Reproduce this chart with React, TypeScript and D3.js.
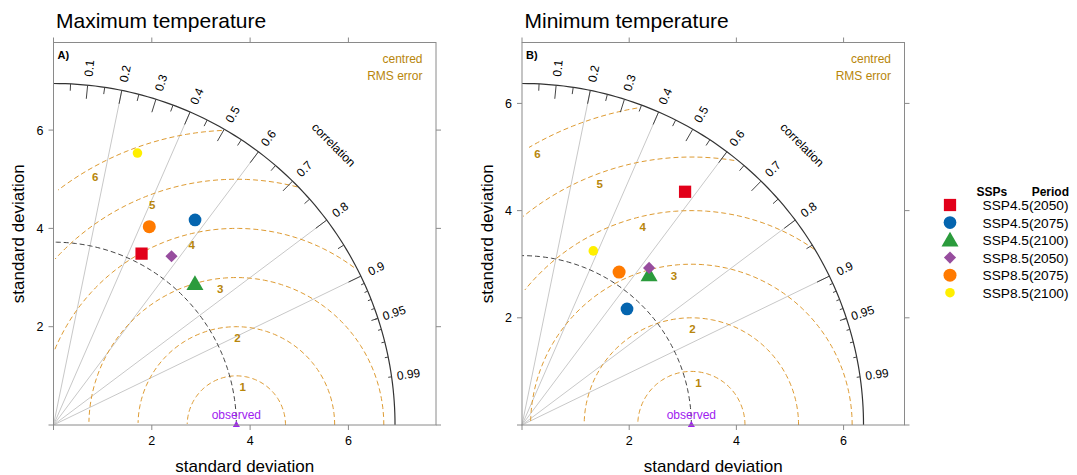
import * as d3 from "d3";

// model scenarios shown in both panels
const scenarios = [
  "SSP4.5(2050)",
  "SSP4.5(2075)",
  "SSP4.5(2100)",
  "SSP8.5(2050)",
  "SSP8.5(2075)",
  "SSP8.5(2100)",
];

// standard deviation and correlation
const maxTempObsSd = 3.72;
const maxTempSd = [3.92, 5.07, 4.07, 4.19, 4.48, 5.79];
const maxTempCorr = [0.457, 0.568, 0.707, 0.573, 0.435, 0.295];

const minTempObsSd = 3.16;
const minTempSd = [5.31, 2.92, 3.67, 3.77, 3.38, 3.51];
const minTempCorr = [0.573, 0.671, 0.646, 0.629, 0.536, 0.379];

const axisTicks = [0, 2, 4, 6];
const bigCorr = [0.1, 0.2, 0.3, 0.4, 0.5, 0.6, 0.7, 0.8, 0.9];
const medCorr = [0.05, 0.15, 0.25, 0.35, 0.45, 0.55, 0.65, 0.75, 0.85, 0.95];
const smlCorr = [0.91, 0.92, 0.93, 0.94, 0.95, 0.96, 0.97, 0.98, 0.99];
const corrLabels = [0.1, 0.2, 0.3, 0.4, 0.5, 0.6, 0.7, 0.8, 0.9, 0.95, 0.99];
const corrRays = [0.2, 0.4, 0.6, 0.8, 0.9];

const markers = [
  { shape: d3.symbolSquare, size: 150, color: "#E2001A", rotate: 0 },
  { shape: d3.symbolCircle, size: 127, color: "#0565AF", rotate: 0 },
  { shape: d3.symbolTriangle, size: 125, color: "#2B9B3C", rotate: 0 },
  { shape: d3.symbolSquare, size: 74, color: "#974D9E", rotate: 45 },
  { shape: d3.symbolCircle, size: 133, color: "#FF7A00", rotate: 0 },
  { shape: d3.symbolCircle, size: 72, color: "#FFEF00", rotate: 0 },
];

const FONT = "Liberation Sans, Arial, Helvetica, sans-serif";
const RMS = "#B8860B";
const FRAME = "#8a8a8a";
const PANEL = 382.5;

interface PanelProps {
  left: number;
  top: number;
  title: string;
  tag: string;
  obs: number;
  sd: number[];
  corr: number[];
}

const TaylorPanel = ({ left, top, title, tag, obs, sd, corr }: PanelProps) => {
  const maxsd = 1.2 * (d3.max([...sd, obs]) as number);
  const lim = maxsd * 1.12;
  const x = d3.scaleLinear().domain([0, lim]).range([0, PANEL]);
  const y = d3.scaleLinear().domain([0, lim]).range([PANEL, 0]);
  const line = d3
    .line<[number, number]>()
    .x((d) => x(d[0]))
    .y((d) => y(d[1]));

  const quarter = (r: number) =>
    line(d3.range(0, 91).map((a) => {
      const t = (a * Math.PI) / 180;
      return [Math.cos(t) * r, Math.sin(t) * r] as [number, number];
    }));

  const tick = (c: number, f: number, i: number) => {
    const t = Math.acos(c);
    return (
      <line
        key={`t${f}-${i}`}
        x1={x(Math.cos(t) * maxsd)}
        y1={y(Math.sin(t) * maxsd)}
        x2={x(Math.cos(t) * maxsd * f)}
        y2={y(Math.sin(t) * maxsd * f)}
        stroke="#444"
        strokeWidth={1}
      />
    );
  };

  // centred RMS arcs, sampled as in openair
  const gamma = d3.ticks(0, maxsd, 5).filter((g) => g <= maxsd);
  const labelPos = gamma.map((_, i) =>
    gamma.length > 1 ? 45 + (25 * i) / (gamma.length - 1) : 45,
  );
  const steps = d3.range(105).map((i) => i * 0.03);
  const rmsArcs = gamma.map((g, gi) => {
    const xs = steps.map((a) => Math.cos(a) * g + obs);
    const ys = steps.map((a) => Math.sin(a) * g);
    const neg = xs.findIndex((v) => v < 0);
    const end = neg === -1 ? 104 : neg - 1;
    let start = -1;
    xs.forEach((v, i) => {
      if (v * v + ys[i] * ys[i] > maxsd * maxsd) start = i;
    });
    start = start === -1 ? 0 : start + 1;
    const pts: [number, number][] = [];
    for (let i = start; i <= end; i++) pts.push([xs[i], ys[i]]);
    const li = Math.floor(labelPos[gi]) - 1;
    return { g, d: pts.length > 1 ? line(pts) : null, lx: xs[li], ly: ys[li] };
  });

  return (
    <g transform={`translate(${left},${top})`}>
      <text x={2.5} y={-14.5} fontSize={21} fontFamily={FONT} fill="#000">
        {title}
      </text>
      <defs>
        <clipPath id={`clip-${tag}`}>
          <rect x={0} y={0} width={PANEL} height={PANEL} />
        </clipPath>
      </defs>
      <g clipPath={`url(#clip-${tag})`}>
        {corrRays.map((c) => (
          <line
            key={`r${c}`}
            x1={x(0)}
            y1={y(0)}
            x2={x(c * maxsd)}
            y2={y(Math.sqrt(1 - c * c) * maxsd)}
            stroke="#c8c8c8"
            strokeWidth={1}
          />
        ))}
        {rmsArcs.map((a) =>
          a.d ? (
            <path
              key={`g${a.g}`}
              d={a.d}
              fill="none"
              stroke="#DE9B32"
              strokeWidth={1}
              strokeDasharray="5,3"
            />
          ) : null,
        )}
        {rmsArcs
          .filter((a) => a.g > 0 && a.lx > 0)
          .map((a) => (
            <text
              key={`gl${a.g}`}
              x={x(a.lx)}
              y={y(a.ly) + 15}
              textAnchor="middle"
              fontSize={11.5}
              fontWeight="bold"
              fontFamily={FONT}
              fill={RMS}
            >
              {a.g}
            </text>
          ))}
        <path
          d={quarter(obs) ?? ""}
          fill="none"
          stroke="#444"
          strokeWidth={1}
          strokeDasharray="5,3"
        />
        <path d={quarter(maxsd) ?? ""} fill="none" stroke="#333" strokeWidth={1.2} />
        {bigCorr.map((c, i) => tick(c, 0.96, i))}
        {medCorr.map((c, i) => tick(c, 0.98, i))}
        {smlCorr.map((c, i) => tick(c, 0.99, i))}
        <path
          d={d3.symbol(d3.symbolTriangle, 22)() ?? ""}
          transform={`translate(${x(obs)},${y(0)})`}
          fill="#A020F0"
        />
        <text
          x={x(obs)}
          y={y(0) - 6}
          textAnchor="middle"
          fontSize={12}
          fontFamily={FONT}
          fill="#A020F0"
        >
          observed
        </text>
        {sd.map((s, i) => {
          const m = markers[i];
          const px = x(s * corr[i]);
          const py = y(s * Math.sqrt(1 - corr[i] * corr[i]));
          return (
            <path
              key={`p${i}`}
              d={d3.symbol(m.shape, m.size)() ?? ""}
              transform={`translate(${px},${py + (m.shape === d3.symbolTriangle ? 1.5 : 0)}) rotate(${m.rotate})`}
              fill={m.color}
            />
          );
        })}
      </g>
      {corrLabels.map((c) => {
        const t = Math.acos(c);
        const deg = (t * 180) / Math.PI;
        return (
          <text
            key={`cl${c}`}
            transform={`translate(${x(Math.cos(t) * maxsd * 1.05)},${y(Math.sin(t) * maxsd * 1.05)}) rotate(${-deg})`}
            textAnchor="middle"
            dominantBaseline="central"
            fontSize={12}
            fontFamily={FONT}
            fill="#000"
          >
            {c}
          </text>
        );
      })}
      <text
        transform={`translate(${x(maxsd * 0.82)},${y(maxsd * 0.82)}) rotate(45)`}
        textAnchor="middle"
        dominantBaseline="central"
        fontSize={12}
        fontFamily={FONT}
        fill="#000"
      >
        correlation
      </text>
      <text x={PANEL - 13.5} y={20} textAnchor="end" fontSize={12} fontFamily={FONT} fill={RMS}>
        centred
      </text>
      <text x={PANEL - 13.5} y={37.7} textAnchor="end" fontSize={12} fontFamily={FONT} fill={RMS}>
        RMS error
      </text>
      <text x={4} y={16.5} fontSize={11} fontWeight="bold" fontFamily={FONT} fill="#000">
        {tag}
      </text>
      <rect x={0} y={0} width={PANEL} height={PANEL} fill="none" stroke={FRAME} strokeWidth={1} />
      {axisTicks.map((v) => (
        <g key={`ax${v}`} stroke={FRAME} strokeWidth={1}>
          <line x1={x(v)} x2={x(v)} y1={PANEL} y2={PANEL + 5} />
          <line x1={x(v)} x2={x(v)} y1={0} y2={-5} />
          <line x1={0} x2={-5} y1={y(v)} y2={y(v)} />
          <line x1={PANEL} x2={PANEL + 5} y1={y(v)} y2={y(v)} />
        </g>
      ))}
      {axisTicks
        .filter((v) => v > 0)
        .map((v) => (
          <g key={`al${v}`}>
            <text
              x={x(v)}
              y={PANEL + 20}
              textAnchor="middle"
              fontSize={12.5}
              fontFamily={FONT}
              fill="#000"
            >
              {v}
            </text>
            <text
              x={-10}
              y={y(v) + 4.5}
              textAnchor="end"
              fontSize={12.5}
              fontFamily={FONT}
              fill="#000"
            >
              {v}
            </text>
          </g>
        ))}
      <text
        x={PANEL / 2}
        y={PANEL + 47}
        textAnchor="middle"
        fontSize={17}
        fontFamily={FONT}
        fill="#000"
      >
        standard deviation
      </text>
      <text
        transform={`translate(${-35},${PANEL / 2}) rotate(-90)`}
        textAnchor="middle"
        dominantBaseline="central"
        fontSize={17}
        fontFamily={FONT}
        fill="#000"
      >
        standard deviation
      </text>
    </g>
  );
};

const Legend = () => {
  const rowY = d3.scaleLinear().domain([0, 5]).range([205, 292.7]);
  return (
    <g fontFamily={FONT}>
      <text x={976.5} y={195.5} fontSize={12} fontWeight="bold" fill="#000">
        SSPs
      </text>
      <text x={1069} y={195.5} fontSize={12} fontWeight="bold" textAnchor="end" fill="#000">
        Period
      </text>
      {scenarios.map((s, i) => {
        const m = markers[i];
        return (
          <g key={s}>
            <path
              d={d3.symbol(m.shape, m.size)() ?? ""}
              transform={`translate(950,${rowY(i) + (m.shape === d3.symbolTriangle ? 1.5 : 0)}) rotate(${m.rotate})`}
              fill={m.color}
            />
            <text x={1068.5} y={rowY(i) + 5} fontSize={13.7} textAnchor="end" fill="#000">
              {s}
            </text>
          </g>
        );
      })}
    </g>
  );
};

export default function App() {
  return (
    <svg
      width={1077}
      height={475}
      style={{ position: "absolute", left: 0, top: 0, background: "#fff" }}
    >
      <TaylorPanel
        left={53.5}
        top={42.5}
        title="Maximum temperature"
        tag="A)"
        obs={maxTempObsSd}
        sd={maxTempSd}
        corr={maxTempCorr}
      />
      <TaylorPanel
        left={522}
        top={42.5}
        title="Minimum temperature"
        tag="B)"
        obs={minTempObsSd}
        sd={minTempSd}
        corr={minTempCorr}
      />
      <Legend />
    </svg>
  );
}
